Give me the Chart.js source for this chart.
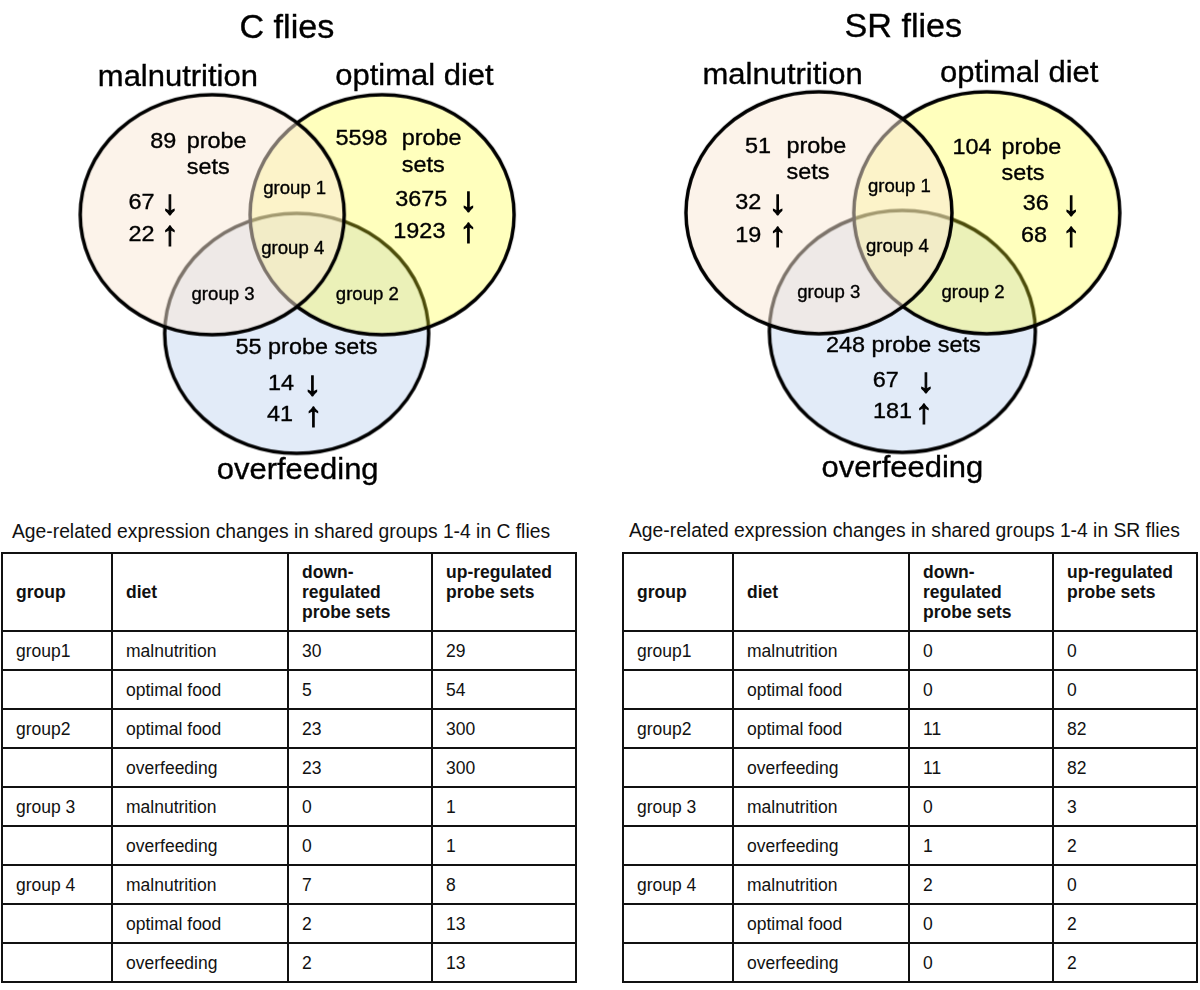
<!DOCTYPE html>
<html>
<head>
<meta charset="utf-8">
<script src="https://cdn.jsdelivr.net/npm/chart.js@4.4.1/dist/chart.umd.min.js"></script>
<style>
  body { margin: 0; background: #fff; font-family: "Liberation Sans", Arial, sans-serif; }
  #wrap { position: relative; width: 1200px; height: 990px; overflow: hidden; }
  #venn { position: absolute; left: 0; top: 0; }
  .ttl { position: absolute; font-size: 19.3px; line-height: 22px; color: #111; white-space: nowrap; }
  table { position: absolute; border-collapse: collapse; table-layout: fixed; width: 576px;
          font-size: 17.5px; line-height: 20px; color: #111; }
  td, th { border: 2px solid #111; padding: 0 4px 0 13px; text-align: left; white-space: nowrap; }
  td { vertical-align: middle; }
  th { vertical-align: top; font-weight: bold; padding-top: 8px; }
  th.one { padding-top: 28px; }
  tr.head { height: 78px; }
  tr.row { height: 39px; }
</style>
</head>
<body>
<div id="wrap">
  <canvas id="venn" width="1200" height="505"></canvas>
  <div class="ttl" id="cTitle" style="left:12px;top:521px"></div>
  <table id="cTable" style="left:1px;top:552px"></table>
  <div class="ttl" id="srTitle" style="left:629px;top:520px"></div>
  <table id="srTable" style="left:622px;top:552px"></table>
</div>
<script>
// diets and counts in each Venn diagram
const dietNames = ['malnutrition', 'optimal diet', 'overfeeding'];
const groupNames = ['group 1', 'group 2', 'group 3', 'group 4'];
const cTotal = [89, 5598, 55];
const cDown = [67, 3675, 14];
const cUp = [22, 1923, 41];
const srTotal = [51, 104, 248];
const srDown = [32, 36, 67];
const srUp = [19, 68, 181];

// shared groups tables
const tableHead = ['group', 'diet', 'down-<br>regulated<br>probe sets', 'up-regulated<br>probe sets'];
const rowGroups = ['group1', '', 'group2', '', 'group 3', '', 'group 4', '', ''];
const rowDiets = ['malnutrition', 'optimal food', 'optimal food', 'overfeeding', 'malnutrition',
                  'overfeeding', 'malnutrition', 'optimal food', 'overfeeding'];
const cTableDown = [30, 5, 23, 23, 0, 0, 7, 2, 2];
const cTableUp = [29, 54, 300, 300, 1, 1, 8, 13, 13];
const srTableDown = [0, 0, 11, 11, 0, 1, 2, 0, 0];
const srTableUp = [0, 0, 82, 82, 3, 2, 0, 2, 2];

// layout of the two diagrams (page pixels)
const fills = ['rgba(249,231,213,0.5)', 'rgba(255,255,38,0.3)', 'rgb(226,235,248)'];
const panels = [
  {
    title: 'C flies', total: cTotal, down: cDown, up: cUp,
    centers: [[205, 213], [378, 213], [291, 337]], rx: 132, ry: 120,
    titlePos: [281, 28],
    labelPos: [[170, 78], [411, 77], [292, 489]],
    numPos: [[155, 143], [357, 140]], probeX: [179, 398], setsY: [170, 168],
    overPos: [301, 359],
    downPos: [[133, 207, 162], [418, 204, 466], [275, 396, 307]],
    upPos: [[133, 240, 162], [416, 237, 466], [274, 429, 308]],
    groupPos: [[289, 191], [363, 302], [216, 302], [287, 254]]
  },
  {
    title: 'SR flies', total: srTotal, down: srDown, up: srUp,
    centers: [[823, 211], [994, 211], [908, 335]], rx: 133, ry: 121,
    titlePos: [909, 27],
    labelPos: [[786, 76], [1027, 74], [908, 487]],
    numPos: [[761, 148], [979, 150]], probeX: [790, 1009], setsY: [176, 177],
    overPos: [909, 357],
    downPos: [[751, 207, 781], [1044, 208, 1080], [891, 393, 932]],
    upPos: [[751, 241, 781], [1042, 241, 1080], [898, 426, 930]],
    groupPos: [[905, 189], [980, 300], [833, 300], [903, 252]]
  }
];

function ellipseImage(rx, ry, fill) {
  const c = document.createElement('canvas');
  c.width = 2 * rx + 6;
  c.height = 2 * ry + 6;
  const g = c.getContext('2d');
  g.beginPath();
  g.ellipse(c.width / 2, c.height / 2, rx, ry, 0, 0, Math.PI * 2);
  g.fillStyle = fill;
  g.fill();
  g.lineWidth = 3.5;
  g.strokeStyle = '#000';
  g.stroke();
  return c;
}
panels.forEach(p => { p.images = fills.map(f => ellipseImage(p.rx, p.ry, f)); });

function put(chart, text, x, y, size, align, weight) {
  const ctx = chart.ctx;
  const px = chart.scales.x.getPixelForValue(x);
  const py = chart.scales.y.getPixelForValue(y);
  ctx.save();
  ctx.translate(px, py);
  ctx.scale(1.05, 1);
  ctx.font = size + 'px "Liberation Sans", Arial, sans-serif';
  ctx.textAlign = align || 'center';
  ctx.textBaseline = 'alphabetic';
  ctx.fillStyle = '#000';
  ctx.strokeStyle = '#000';
  ctx.lineWidth = weight || 0.35;
  ctx.fillText(text, 0, 0);
  ctx.strokeText(text, 0, 0);
  ctx.restore();
}

const vennText = {
  id: 'vennText',
  afterDatasetsDraw(chart) {
    panels.forEach(p => {
      put(chart, p.title, p.titlePos[0], p.titlePos[1], 32.5);
      dietNames.forEach((d, i) => put(chart, d, p.labelPos[i][0], p.labelPos[i][1], 29.5));
      // totals
      for (let i = 0; i < 2; i++) {
        put(chart, String(p.total[i]), p.numPos[i][0], p.numPos[i][1], 22.3);
        put(chart, 'probe', p.probeX[i], p.numPos[i][1], 22.3, 'left');
        put(chart, 'sets', p.probeX[i], p.setsY[i], 22.3, 'left');
      }
      put(chart, p.total[2] + ' probe sets', p.overPos[0], p.overPos[1], 22.3);
      // down / up
      for (let i = 0; i < 3; i++) {
        const dp = p.downPos[i], up = p.upPos[i];
        put(chart, String(p.down[i]), dp[0], dp[1], 22.3);
        put(chart, '\u2193', dp[2], dp[1] + 5, 34, 'center', 1.1);
        put(chart, String(p.up[i]), up[0], up[1], 22.3);
        put(chart, '\u2191', up[2], up[1] + 5, 34, 'center', 1.1);
      }
      groupNames.forEach((g, i) => put(chart, g, p.groupPos[i][0], p.groupPos[i][1], 17.7));
    });
  }
};

new Chart(document.getElementById('venn'), {
  type: 'scatter',
  data: {
    datasets: dietNames.map((name, d) => ({
      label: name,
      data: panels.map(p => ({ x: p.centers[d][0], y: p.centers[d][1] })),
      pointStyle: panels.map(p => p.images[d]),
      pointRadius: 10,
      pointHoverRadius: 10,
      clip: false
    }))
  },
  options: {
    responsive: false,
    animation: false,
    events: [],
    layout: { padding: 0 },
    plugins: { legend: { display: false }, tooltip: { enabled: false } },
    scales: {
      x: { type: 'linear', min: 0, max: 1200, display: false },
      y: { type: 'linear', min: 0, max: 505, reverse: true, display: false }
    }
  },
  plugins: [vennText]
});

function buildTable(id, down, up) {
  const t = document.getElementById(id);
  let html = '<colgroup><col style="width:110px"><col style="width:176px"><col style="width:144px"><col style="width:144px"></colgroup>';
  html += '<tr class="head">' + tableHead.map((h, i) =>
    '<th' + (i < 2 ? ' class="one"' : '') + '>' + h + '</th>').join('') + '</tr>';
  rowDiets.forEach((d, i) => {
    html += '<tr class="row"><td>' + rowGroups[i] + '</td><td>' + d + '</td><td>' +
      down[i] + '</td><td>' + up[i] + '</td></tr>';
  });
  t.innerHTML = html;
}
document.getElementById('cTitle').textContent = 'Age-related expression changes in shared groups 1-4 in C flies';
document.getElementById('srTitle').textContent = 'Age-related expression changes in shared groups 1-4 in SR flies';
buildTable('cTable', cTableDown, cTableUp);
buildTable('srTable', srTableDown, srTableUp);
</script>
</body>
</html>
